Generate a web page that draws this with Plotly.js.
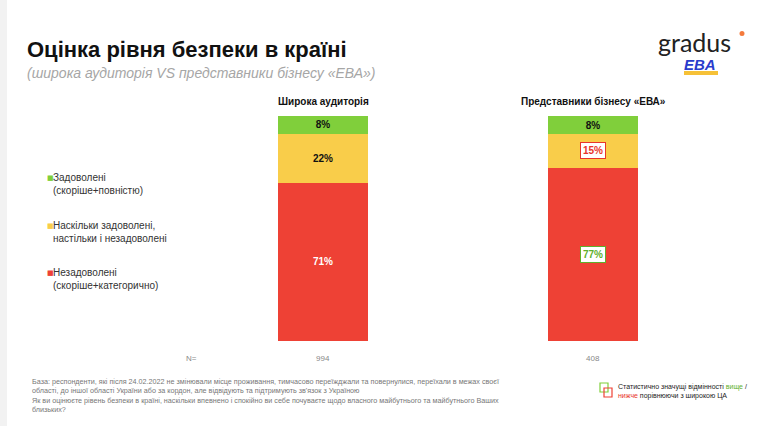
<!DOCTYPE html>
<html>
<head>
<meta charset="utf-8">
<script src="https://cdn.plot.ly/plotly-3.0.1.min.js"></script>
<style>
  html, body { margin: 0; padding: 0; background: #fff; }
  #chart { width: 764px; height: 426px; }
</style>
</head>
<body>
<div id="chart"></div>
<script>
// values
const categories = ['Широка аудиторія', 'Представники бізнесу «ЕВА»'];
const nBase = [994, 408];
const satisfied = [8, 8];
const neutral = [22, 15];
const dissatisfied = [71, 77];
// significance vs wide audience: 1 = higher, -1 = lower, 0 = none
const satisfiedSig = [0, 0];
const neutralSig = [0, -1];
const dissatisfiedSig = [0, 1];

const seriesNames = [
  'Незадоволені<br>(скоріше+категорично)',
  'Наскільки задоволені,<br>настільки і незадоволені',
  'Задоволені<br>(скоріше+повністю)'
];
const colors = ['#ee4135', '#f9cd4a', '#80cf3b'];
const GREEN_TXT = '#5fb02c', RED_TXT = '#e8352b';
const FONT = 'Liberation Sans, Arial, sans-serif';

// plot area in pixels
const L = 188, R = 728, T = 116, B = 341;
const W = 764, H = 426;
const px = x => (x - L) / (R - L);
const py = y => (B - y) / (B - T);

// stacked bottom-up
const series = [dissatisfied, neutral, satisfied];
const sigs = [dissatisfiedSig, neutralSig, satisfiedSig];
const txtColors = ['#fff', '#111', '#111'];

const data = series.map((vals, i) => ({
  type: 'bar',
  x: categories,
  y: vals,
  name: seriesNames[i],
  marker: { color: colors[i], line: { width: 0 } },
  text: vals.map((v, j) => sigs[i][j] === 0 ? '<b>' + v + '%</b>' : ''),
  textposition: 'inside',
  insidetextanchor: 'middle',
  textangle: 0,
  textfont: { family: FONT, size: 10, color: txtColors[i] },
  hoverinfo: 'skip',
  showlegend: false
}));

const annotations = [];

// boxed labels for significant differences
series.forEach((vals, i) => {
  vals.forEach((v, j) => {
    const s = sigs[i][j];
    if (s === 0) return;
    const total = series.reduce((a, arr) => a + arr[j], 0);
    let below = 0;
    for (let k = 0; k < i; k++) below += series[k][j];
    const c = s > 0 ? GREEN_TXT : RED_TXT;
    annotations.push({
      x: categories[j], y: (below + v / 2) / total * 100,
      xref: 'x', yref: 'y', showarrow: false,
      text: '<b>' + v + '%</b>',
      font: { family: FONT, size: 10, color: c },
      bgcolor: '#fff', bordercolor: c, borderwidth: 1, borderpad: 2
    });
  });
});

// column headings and base sizes
categories.forEach((c, j) => {
  annotations.push({
    x: c, xref: 'x', y: 1, yref: 'paper', yanchor: 'bottom', yshift: 7,
    showarrow: false, text: '<b>' + c + '</b>',
    font: { family: FONT, size: 10, color: '#111' }
  });
  annotations.push({
    x: c, xref: 'x', y: py(358), yref: 'paper', yanchor: 'middle',
    showarrow: false, text: String(nBase[j]),
    font: { family: FONT, size: 8, color: '#888' }
  });
});
annotations.push({
  x: px(184), xref: 'paper', y: py(358), yref: 'paper', yanchor: 'middle',
  showarrow: false, text: 'N=', font: { family: FONT, size: 8, color: '#888' }
});

// custom legend, top-down
const legendY = [184, 232, 279];
[2, 1, 0].forEach((i, r) => {
  annotations.push({
    x: px(45), xref: 'paper', y: py(legendY[r] - 6), yref: 'paper',
    xanchor: 'left', yanchor: 'middle', showarrow: false,
    text: '■', font: { family: 'DejaVu Sans', size: 7, color: colors[i] }
  });
  annotations.push({
    x: px(51), xref: 'paper', y: py(legendY[r]), yref: 'paper',
    xanchor: 'left', yanchor: 'middle', align: 'left', showarrow: false,
    text: seriesNames[i], font: { family: FONT, size: 10, color: '#333' }
  });
});

// title, subtitle, logos
annotations.push({
  x: px(25), xref: 'paper', y: py(49), yref: 'paper', xanchor: 'left', yanchor: 'middle',
  showarrow: false, text: '<b>Оцінка рівня безпеки в країні</b>',
  font: { family: FONT, size: 22, color: '#111' }
});
annotations.push({
  x: px(25), xref: 'paper', y: py(73), yref: 'paper', xanchor: 'left', yanchor: 'middle',
  showarrow: false, text: '<i>(широка аудиторія VS представники бізнесу «ЕВА»)</i>',
  font: { family: FONT, size: 14, color: '#a6a6a6' }
});
annotations.push({
  x: px(656), xref: 'paper', y: py(42), yref: 'paper', xanchor: 'left', yanchor: 'middle',
  showarrow: false, text: 'gradus',
  font: { family: 'Lato, sans-serif', size: 25, color: '#222' }
});
annotations.push({
  x: px(700), xref: 'paper', y: py(64), yref: 'paper', xanchor: 'center', yanchor: 'middle',
  showarrow: false, text: '<b><i>EBA</i></b>',
  font: { family: FONT, size: 15, color: '#2a3ccc' }
});

// footnote
annotations.push({
  x: px(30), xref: 'paper', y: py(375), yref: 'paper', xanchor: 'left', yanchor: 'top',
  align: 'left', showarrow: false,
  text: 'База: респонденти, які після 24.02.2022 не змінювали місце проживання, тимчасово переїжджали та повернулися, переїхали в межах своєї<br>' +
        'області, до іншої області України або за кордон, але відвідують та підтримують зв\'язок з Україною<br>' +
        'Як ви оцінюєте рівень безпеки в країні, наскільки впевнено і спокійно ви себе почуваєте щодо власного майбутнього та майбутнього Ваших<br>' +
        'близьких?',
  font: { family: FONT, size: 7.2, color: '#777' }
});
annotations.push({
  x: px(616), xref: 'paper', y: py(391), yref: 'paper', xanchor: 'left', yanchor: 'middle',
  align: 'left', showarrow: false,
  text: 'Статистично значущі відмінності <span style="color:' + GREEN_TXT + '">вище</span> /<br>' +
        '<span style="color:' + RED_TXT + '">нижче</span> порівнюючи з широкою ЦА',
  font: { family: FONT, size: 7, color: '#222' }
});

const shapes = [
  { type: 'rect', xref: 'paper', yref: 'paper', x0: px(0), x1: px(7), y0: py(426), y1: py(0),
    fillcolor: '#f2f2f2', line: { width: 0 }, layer: 'below' },
  { type: 'circle', xref: 'paper', yref: 'paper', x0: px(739.5), x1: px(744.5), y0: py(36), y1: py(31),
    fillcolor: '#f47a3c', line: { width: 0 } },
  { type: 'rect', xref: 'paper', yref: 'paper', x0: px(684), x1: px(718), y0: py(75), y1: py(71),
    fillcolor: '#f6c137', line: { width: 0 } },
  { type: 'rect', xref: 'paper', yref: 'paper', x0: px(600), x1: px(608), y0: py(392), y1: py(383),
    line: { color: '#80cf3b', width: 1.2 } },
  { type: 'rect', xref: 'paper', yref: 'paper', x0: px(604), x1: px(612), y0: py(397), y1: py(388),
    line: { color: '#ee4135', width: 1.2 } }
];

const layout = {
  width: W, height: H,
  margin: { l: L, r: W - R, t: T, b: H - B, pad: 0 },
  paper_bgcolor: '#fff', plot_bgcolor: '#fff',
  barmode: 'stack', barnorm: 'percent', bargap: 0.67,
  font: { family: FONT },
  xaxis: { range: [-0.5, 1.5], showticklabels: false, showgrid: false, zeroline: false, showline: false, fixedrange: true },
  yaxis: { range: [0, 100], showticklabels: false, showgrid: false, zeroline: false, showline: false, fixedrange: true },
  annotations: annotations,
  shapes: shapes,
  showlegend: false
};

Plotly.newPlot('chart', data, layout, { displayModeBar: false, staticPlot: true });
</script>
</body>
</html>
